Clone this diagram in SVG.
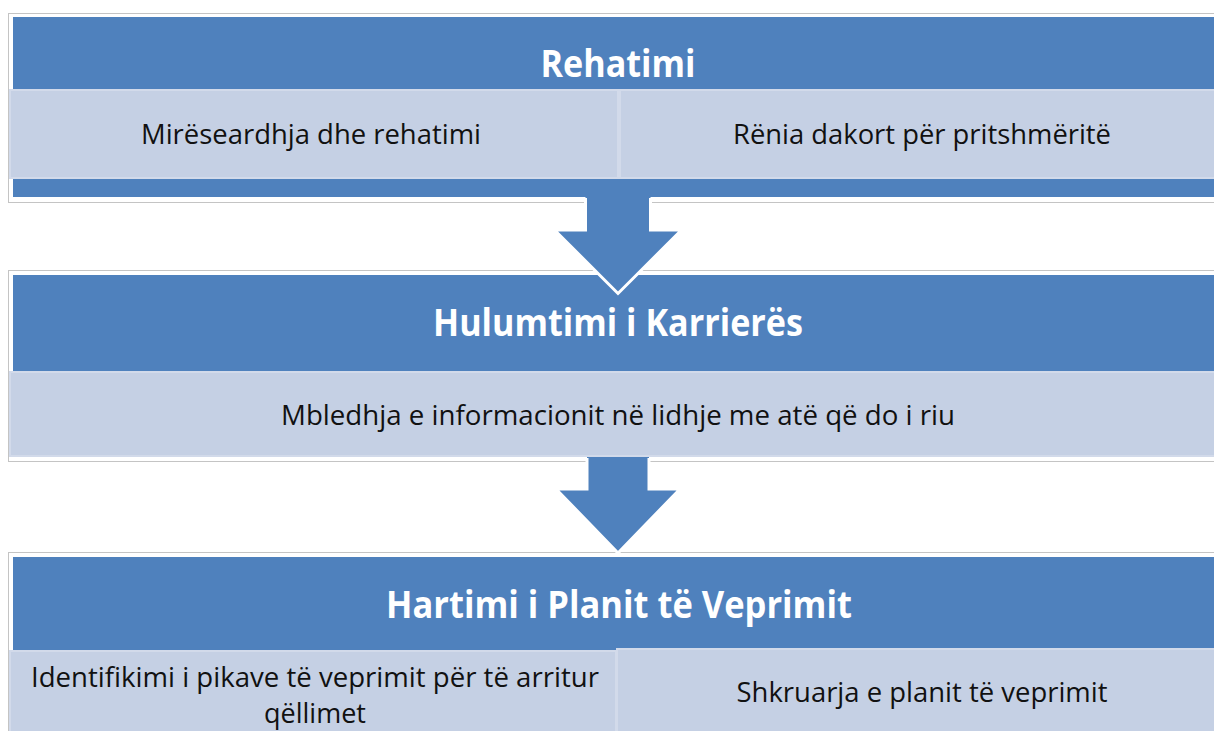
<svg xmlns="http://www.w3.org/2000/svg" width="1214" height="731" viewBox="0 0 1214 731">
<style>
.frame{fill:#ffffff;stroke:#c4c4c4;stroke-width:1}
.band{fill:#4f81bd}
.sub{fill:#c5d0e4;stroke:#d2daea;stroke-width:2}
.title{font-family:"Open Sans","Noto Sans",sans-serif;font-weight:bold;font-size:37px;fill:#ffffff;text-anchor:middle}
.body{font-family:"Open Sans","Noto Sans",sans-serif;font-size:27px;fill:#111111;text-anchor:middle}
.afill{fill:#4f81bd}
.aline{fill:none;stroke:#ffffff;stroke-width:3;stroke-linejoin:miter}
</style>
<rect width="1214" height="731" fill="#ffffff"/>
<g id="stage1">
  <rect class="frame" x="8.5" y="13.5" width="1220" height="189"/>
  <rect class="band" x="13" y="17" width="1210" height="180"/>
  <text class="title" x="618" y="77" textLength="155" lengthAdjust="spacingAndGlyphs">Rehatimi</text>
</g>
<g id="stage1-a">
  <rect class="sub" x="10" y="90" width="608" height="88"/>
  <text class="body" x="311" y="144" textLength="340" lengthAdjust="spacingAndGlyphs">Mirëseardhja dhe rehatimi</text>
</g>
<g id="stage1-b">
  <rect class="sub" x="620" y="90" width="600" height="88"/>
  <text class="body" x="922" y="144" textLength="378" lengthAdjust="spacingAndGlyphs">Rënia dakort për pritshmëritë</text>
</g>
<g id="stage2">
  <rect class="frame" x="8.5" y="270.5" width="1220" height="191"/>
  <rect class="band" x="13" y="275" width="1210" height="182"/>
  <text class="title" x="618" y="336" textLength="370" lengthAdjust="spacingAndGlyphs">Hulumtimi i Karrierës</text>
</g>
<g id="stage2-a">
  <rect class="sub" x="10" y="372" width="1212" height="84"/>
  <text class="body" x="618" y="425" textLength="674" lengthAdjust="spacingAndGlyphs">Mbledhja e informacionit në lidhje me atë që do i riu</text>
</g>
<g id="stage3">
  <rect class="frame" x="8.5" y="552.5" width="1220" height="200"/>
  <rect class="band" x="13" y="557" width="1210" height="190"/>
  <text class="title" x="619" y="618" textLength="466" lengthAdjust="spacingAndGlyphs">Hartimi i Planit të Veprimit</text>
</g>
<g id="stage3-a">
  <rect class="sub" x="10" y="651" width="606" height="90"/>
  <text class="body" x="315" y="687" textLength="568" lengthAdjust="spacingAndGlyphs">Identifikimi i pikave të veprimit për të arritur</text>
  <text class="body" x="315" y="723">qëllimet</text>
</g>
<g id="stage3-b">
  <rect class="sub" x="617" y="649" width="605" height="92"/>
  <text class="body" x="922" y="702" textLength="371" lengthAdjust="spacingAndGlyphs">Shkruarja e planit të veprimit</text>
</g>
<g id="connectors">
  <g id="arrow1">
    <polygon class="afill" points="585.5,196 650.5,196 650.5,230 681.5,230 618,293.5 554.5,230 585.5,230"/>
    <polyline class="aline" points="585.5,198 585.5,230 554.5,230 618,293.5 681.5,230 650.5,230 650.5,198"/>
  </g>
  <g id="arrow2">
    <polygon class="afill" points="587,457 649,457 649,489 680,489 618,553 556,489 587,489"/>
    <polyline class="aline" points="587,458 587,489 556,489 618,553 680,489 649,489 649,458"/>
  </g>
</g>
</svg>
